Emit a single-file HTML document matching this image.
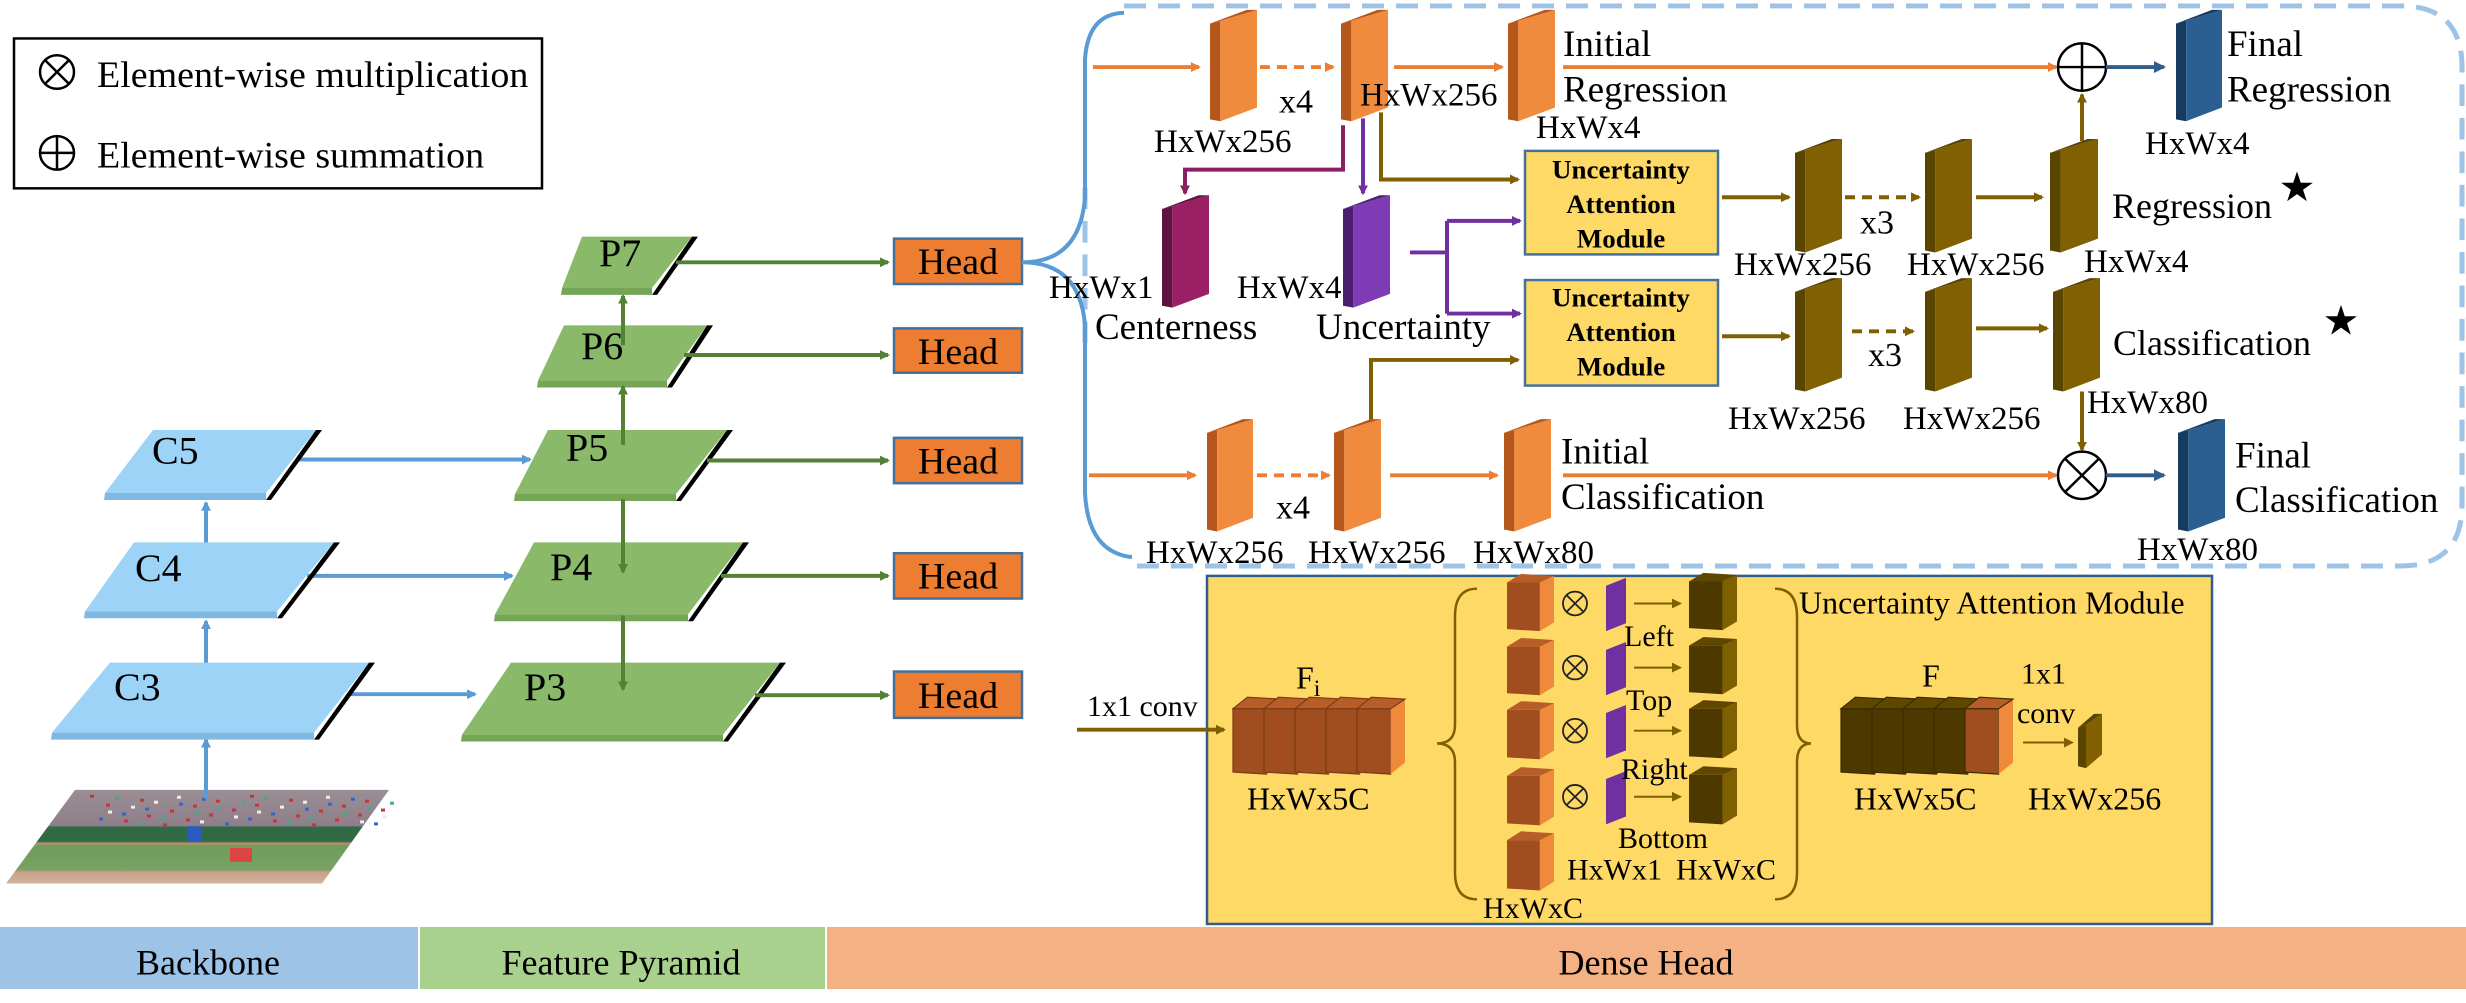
<!DOCTYPE html>
<html><head><meta charset="utf-8">
<style>
html,body{margin:0;padding:0;background:#fff;}
svg{display:block;}
text{font-family:"Liberation Serif","DejaVu Serif","Noto Serif CJK SC","Times New Roman",serif;fill:#000;}
.b{font-weight:bold;}
</style></head><body>
<svg id="s" width="2466" height="1003" viewBox="0 0 2466 1003" xmlns="http://www.w3.org/2000/svg">
<defs>
<marker id="mo" markerWidth="10" markerHeight="10" refX="8" refY="5" orient="auto" markerUnits="userSpaceOnUse"><path d="M0,0 L10,5 L0,10 z" fill="#ed7d31"/></marker>
<marker id="mg" markerWidth="10" markerHeight="10" refX="8" refY="5" orient="auto" markerUnits="userSpaceOnUse"><path d="M0,0 L10,5 L0,10 z" fill="#548235"/></marker>
<marker id="mb" markerWidth="10" markerHeight="10" refX="8" refY="5" orient="auto" markerUnits="userSpaceOnUse"><path d="M0,0 L10,5 L0,10 z" fill="#5b9bd5"/></marker>
<marker id="mn" markerWidth="10" markerHeight="10" refX="8" refY="5" orient="auto" markerUnits="userSpaceOnUse"><path d="M0,0 L10,5 L0,10 z" fill="#7f6000"/></marker>
<marker id="mp" markerWidth="10" markerHeight="10" refX="8" refY="5" orient="auto" markerUnits="userSpaceOnUse"><path d="M0,0 L10,5 L0,10 z" fill="#7030a0"/></marker>
<marker id="mm" markerWidth="10" markerHeight="10" refX="8" refY="5" orient="auto" markerUnits="userSpaceOnUse"><path d="M0,0 L10,5 L0,10 z" fill="#8c1f63"/></marker>
<marker id="md" markerWidth="12" markerHeight="12" refX="10" refY="6" orient="auto" markerUnits="userSpaceOnUse"><path d="M0,0 L12,6 L0,12 z" fill="#2e5e8e"/></marker>
<linearGradient id="img" x1="0" y1="0" x2="0" y2="1">
<stop offset="0" stop-color="#9a8e95"/><stop offset="0.38" stop-color="#8e7f8a"/>
<stop offset="0.4" stop-color="#2f6a45"/><stop offset="0.55" stop-color="#2f6a45"/>
<stop offset="0.57" stop-color="#c98a6a"/><stop offset="0.6" stop-color="#6f9d5b"/>
<stop offset="0.85" stop-color="#7aa163"/><stop offset="0.88" stop-color="#c9a28a"/>
<stop offset="1" stop-color="#d2b29c"/></linearGradient>
</defs>
<g transform="scale(1,0.9861)">
<g id="shapes"></g>
<g id="texts" font-size="33" style="font-family:'Liberation Serif','DejaVu Serif','Noto Serif CJK SC',serif">
<text x="97" y="88" font-size="38">Element-wise multiplication</text>
<text x="97" y="170" font-size="38">Element-wise summation</text>
<text x="208" y="988" font-size="36" text-anchor="middle">Backbone</text>
<text x="621" y="988" font-size="36" text-anchor="middle">Feature Pyramid</text>
<text x="1646" y="988" font-size="36" text-anchor="middle">Dense Head</text>
<text x="152" y="470" font-size="40">C5</text>
<text x="135" y="589" font-size="40">C4</text>
<text x="114" y="710" font-size="40">C3</text>
<text x="599" y="270" font-size="40">P7</text>
<text x="581" y="364" font-size="40">P6</text>
<text x="566" y="467" font-size="40">P5</text>
<text x="550" y="588" font-size="40">P4</text>
<text x="524" y="710" font-size="40">P3</text>
<text x="958" y="278" font-size="38" text-anchor="middle">Head</text>
<text x="958" y="369" font-size="38" text-anchor="middle">Head</text>
<text x="958" y="480" font-size="38" text-anchor="middle">Head</text>
<text x="958" y="597" font-size="38" text-anchor="middle">Head</text>
<text x="958" y="718" font-size="38" text-anchor="middle">Head</text>
<text x="1279" y="114" font-size="34">x4</text>
<text x="1154" y="154">HxWx256</text>
<text x="1360" y="107">HxWx256</text>
<text x="1563" y="57" font-size="37">Initial</text>
<text x="1563" y="103" font-size="37">Regression</text>
<text x="1536" y="140">HxWx4</text>
<text x="2227" y="57" font-size="37">Final</text>
<text x="2227" y="103" font-size="37">Regression</text>
<text x="2145" y="156">HxWx4</text>
<text x="1049" y="302">HxWx1</text>
<text x="1095" y="344" font-size="37">Centerness</text>
<text x="1237" y="302">HxWx4</text>
<text x="1316" y="344" font-size="37">Uncertainty</text>
<text class="b" x="1621" y="181" font-size="27" text-anchor="middle">Uncertainty</text>
<text class="b" x="1621" y="216" font-size="27" text-anchor="middle">Attention</text>
<text class="b" x="1621" y="251" font-size="27" text-anchor="middle">Module</text>
<text class="b" x="1621" y="311" font-size="27" text-anchor="middle">Uncertainty</text>
<text class="b" x="1621" y="346" font-size="27" text-anchor="middle">Attention</text>
<text class="b" x="1621" y="381" font-size="27" text-anchor="middle">Module</text>
<text x="1860" y="237" font-size="34">x3</text>
<text x="1734" y="279">HxWx256</text>
<text x="1907" y="279">HxWx256</text>
<text x="2084" y="276">HxWx4</text>
<text x="2112" y="221" font-size="36">Regression</text>
<text x="2280" y="202" font-size="34">★</text>
<text x="1868" y="371" font-size="34">x3</text>
<text x="1728" y="435">HxWx256</text>
<text x="1903" y="435">HxWx256</text>
<text x="2087" y="419">HxWx80</text>
<text x="2113" y="360" font-size="36">Classification</text>
<text x="2324" y="337" font-size="34">★</text>
<text x="1276" y="526" font-size="34">x4</text>
<text x="1561" y="470" font-size="37">Initial</text>
<text x="1561" y="516" font-size="37">Classification</text>
<text x="2235" y="474" font-size="37">Final</text>
<text x="2235" y="519" font-size="37">Classification</text>
<text x="2137" y="568">HxWx80</text>
<text x="1146" y="571">HxWx256</text>
<text x="1308" y="571">HxWx256</text>
<text x="1473" y="571">HxWx80</text>
<text x="1087" y="726" font-size="30">1x1 conv</text>
<text x="1296" y="698" font-size="32">F<tspan font-size="24" dy="8">i</tspan></text>
<text x="1247" y="821" font-size="32">HxWx5C</text>
<text x="1624" y="655" font-size="30">Left</text>
<text x="1626" y="720" font-size="30">Top</text>
<text x="1621" y="790" font-size="30">Right</text>
<text x="1618" y="860" font-size="30">Bottom</text>
<text x="1567" y="892" font-size="30">HxWx1</text>
<text x="1676" y="892" font-size="30">HxWxC</text>
<text x="1483" y="931" font-size="30">HxWxC</text>
<text x="1799" y="622" font-size="32">Uncertainty Attention Module</text>
<text x="1922" y="696" font-size="32">F</text>
<text x="2021" y="693" font-size="30">1x1</text>
<text x="2017" y="733" font-size="30">conv</text>
<text x="1854" y="821" font-size="32">HxWx5C</text>
<text x="2028" y="821" font-size="32">HxWx256</text>
</g>
</g>
</svg>
<script>
var S='';
function P(pts,f,extra){S+='<polygon points="'+pts.map(function(p){return p.join(',')}).join(' ')+'" fill="'+f+'" '+(extra||'')+'/>';}
function R(x,y,w,h,f,st,sw){S+='<rect x="'+x+'" y="'+y+'" width="'+w+'" height="'+h+'" fill="'+f+'"'+(st?' stroke="'+st+'" stroke-width="'+(sw||2)+'"':'')+'/>';}
function L(pts,c,m,w,dash){S+='<polyline points="'+pts.map(function(p){return p.join(',')}).join(' ')+'" fill="none" stroke="'+c+'" stroke-width="'+(w||4)+'"'+(m?' marker-end="url(#'+m+')"':'')+(dash?' stroke-dasharray="'+dash+'"':'')+'/>';}
function C(cx,cy,r,type,w){S+='<circle cx="'+cx+'" cy="'+cy+'" r="'+r+'" fill="#fff" stroke="#000" stroke-width="'+(w||2.5)+'"/>';
 if(type=='x'){var d=r*0.707;S+='<path d="M'+(cx-d)+','+(cy-d)+'L'+(cx+d)+','+(cy+d)+'M'+(cx+d)+','+(cy-d)+'L'+(cx-d)+','+(cy+d)+'" stroke="#000" stroke-width="'+(w||2.5)+'"/>';}
 else S+='<path d="M'+(cx-r)+','+cy+'L'+(cx+r)+','+cy+'M'+cx+','+(cy-r)+'L'+cx+','+(cy+r)+'" stroke="#000" stroke-width="'+(w||2.5)+'"/>';}
function X(cx,cy,r){S+='<circle cx="'+cx+'" cy="'+cy+'" r="'+r+'" fill="none" stroke="#222" stroke-width="1.8"/>';var d=r*0.707;S+='<path d="M'+(cx-d)+','+(cy-d)+'L'+(cx+d)+','+(cy+d)+'M'+(cx+d)+','+(cy-d)+'L'+(cx-d)+','+(cy+d)+'" stroke="#222" stroke-width="1.8"/>';}
function layer(tl,tr,bl,br,yt,yb,top,front){
 P([[tl,yt],[tr,yt],[br,yb],[bl,yb]],top);
 P([[bl,yb],[br,yb],[br,yb+7],[bl-1,yb+7]],front);
 P([[tr,yt],[tr+6,yt],[br+5,yb+7],[br,yb+7]],'#000');
}
function slab(x,y,w,h,dark,light){var t=Math.max(8,w*0.22),s=14;
 P([[x,y+s],[x+t,y+s-3],[x+t,y+h],[x,y+h-2]],dark);
 P([[x+t,y+s-3],[x+w,y],[x+w,y+h-s],[x+t,y+h]],light);
 P([[x,y+s],[x+w-t,y],[x+w,y],[x+t,y+s-3]],dark);
}
function cube(x,y,w,h,front,side,top,ln){var d=w*0.3,s=h*0.15;var e=ln?'stroke="'+ln+'" stroke-width="1.2"':'';
 P([[x,y+s],[x+w-d,y+s],[x+w-d,y+h],[x,y+h-2]],front,e);
 P([[x+w-d,y+s],[x+w,y+2],[x+w,y+h-s],[x+w-d,y+h]],side);
 P([[x,y+s],[x+d,y],[x+w,y+2],[x+w-d,y+s]],top,e);
}
R(0,940,418,63,'#9dc3e6');R(420,940,405,63,'#a9d18e');R(827,940,1639,63,'#f4b183');
R(14,39,528,152,'#fff','#000',2.5);
C(57,73,17,'x',2.5);C(57,155,17,'+',2.5);
S+='<polygon points="75,801 389,801 322,896 6,896" fill="url(#img)"/>';
for(var i=0;i<60;i++){var xx=90+i*5+((i*37)%11),yy=806+((i*53)%30);S+='<rect x="'+xx+'" y="'+yy+'" width="4" height="3" fill="'+['#c33','#36c','#eee','#c33','#4a8'][i%5]+'"/>';}
S+='<rect x="188" y="838" width="14" height="16" fill="#2a5bbf"/><rect x="230" y="860" width="22" height="14" fill="#d44"/>';
L([[206,810],[206,750]],'#5b9bd5','mb',4);
L([[206,704],[206,630]],'#5b9bd5','mb',4);
L([[206,584],[206,510]],'#5b9bd5','mb',4);
L([[299,466],[530,466]],'#5b9bd5','mb',4);
L([[307,584],[512,584]],'#5b9bd5','mb',4);
L([[350,704],[475,704]],'#5b9bd5','mb',4);
layer(153,316,105,266,436,500,'#9dd3f7','#7fb8e0');
layer(134,334,85,277,550,620,'#9dd3f7','#7fb8e0');
layer(110,369,52,314,672,743,'#9dd3f7','#7fb8e0');
layer(582,692,562,652,240,292,'#8ab96a','#74a656');
layer(564,707,538,667,330,386,'#8ab96a','#74a656');
layer(548,727,515,676,436,501,'#8ab96a','#74a656');
layer(534,743,495,688,550,623,'#8ab96a','#74a656');
layer(511,780,462,723,672,745,'#8ab96a','#74a656');
L([[623,451],[623,392]],'#548235','mg',4);
L([[623,350],[623,300]],'#548235','mg',4);
L([[623,506],[623,580]],'#548235','mg',4);
L([[623,624],[623,699]],'#548235','mg',4);
L([[676,266],[888,266]],'#548235','mg',4);
L([[684,360],[888,360]],'#548235','mg',4);
L([[707,467],[888,467]],'#548235','mg',4);
L([[721,584],[888,584]],'#548235','mg',4);
L([[755,705],[888,705]],'#548235','mg',4);
[[242,288],[333,378],[444,490],[561,607],[681,728]].forEach(function(a){R(894,a[0],128,a[1]-a[0],'#ed7d31','#41719c',2.5);});
S+='<path d="M1124,6 L2400,6 Q2462,6 2462,68 L2462,512 Q2462,574 2400,574 L1132,574" fill="none" stroke="#9dc3e6" stroke-width="5" stroke-dasharray="22,12"/>';
S+='<path d="M1085,190 L1085,360" fill="none" stroke="#9dc3e6" stroke-width="5" stroke-dasharray="22,12"/>';
S+='<path d="M1022,266 Q1080,266 1085,200 L1085,60 Q1088,14 1124,13 M1022,266 Q1080,266 1085,330 L1085,500 Q1088,560 1132,565" fill="none" stroke="#5b9bd5" stroke-width="4"/>';
var OD='#b5561a',OL='#f08a3c';
L([[1093,68],[1199,68]],'#ed7d31','mo',4);
slab(1210,10,47,113,OD,OL);
L([[1260,68],[1333,68]],'#ed7d31','mo',4,'10,7');
slab(1341,10,47,113,OD,OL);
L([[1394,68],[1502,68]],'#ed7d31','mo',4);
slab(1508,10,47,113,OD,OL);
L([[1563,68],[2056,68]],'#ed7d31','mo',4);
C(2082,68,24,'+',2.5);
L([[2106,68],[2164,68]],'#2e5e8e','md',4);
slab(2176,10,46,113,'#173b5e','#2b5f92');
L([[1343,127],[1343,172],[1185,172],[1185,196]],'#8c1f63','mm',4);
L([[1363,120],[1363,196]],'#7030a0','mp',4);
L([[1381,114],[1381,182],[1518,182]],'#7f6000','mn',4);
slab(1162,198,47,114,'#5e1240','#9a1f64');
slab(1343,198,47,114,'#4b1e70','#7f3bb5');
L([[1410,256],[1447,256]],'#7030a0',null,4);
L([[1447,224],[1447,318]],'#7030a0',null,4);
L([[1447,224],[1520,224]],'#7030a0','mp',4);
L([[1447,318],[1520,318]],'#7030a0','mp',4);
L([[1371,428],[1371,365],[1518,365]],'#7f6000','mn',4);
R(1525,153,193,105,'#ffd966','#41719c',2.5);
R(1525,284,193,107,'#ffd966','#41719c',2.5);
var BD='#5a4500',BL='#806000';
L([[1722,200],[1789,200]],'#7f6000','mn',4);
slab(1795,141,47,115,BD,BL);
L([[1845,200],[1919,200]],'#7f6000','mn',4,'10,7');
slab(1925,141,47,115,BD,BL);
L([[1976,200],[2042,200]],'#7f6000','mn',4);
slab(2050,141,48,115,BD,BL);
L([[2082,143],[2082,96]],'#7f6000','mn',4);
L([[1722,341],[1789,341]],'#7f6000','mn',4);
slab(1795,282,47,115,BD,BL);
L([[1852,336],[1913,336]],'#7f6000','mn',4,'10,7');
slab(1925,282,47,115,BD,BL);
L([[1976,333],[2047,333]],'#7f6000','mn',4);
slab(2053,282,47,115,BD,BL);
L([[2082,397],[2082,456]],'#7f6000','mn',4);
L([[1089,482],[1195,482]],'#ed7d31','mo',4);
slab(1207,425,46,114,OD,OL);
L([[1257,482],[1329,482]],'#ed7d31','mo',4,'10,7');
slab(1334,425,47,114,OD,OL);
L([[1390,482],[1497,482]],'#ed7d31','mo',4);
slab(1504,425,47,114,OD,OL);
L([[1563,482],[2056,482]],'#ed7d31','mo',4);
C(2082,482,24,'x',2.5);
L([[2106,482],[2164,482]],'#2e5e8e','md',4);
slab(2178,425,47,114,'#173b5e','#2b5f92');
R(1207,584,1005,353,'#ffd966','#2e5e8e',2.5);
L([[1077,740],[1224,740]],'#7f6000','mn',4);
for(var k=0;k<5;k++){cube(1233+k*31,707,48,78,'#a04e1f','#ef8a3d','#b85d27','#7a3a12');}
S+='<path d="M1477,597 Q1455,597 1455,625 L1455,735 Q1455,754 1437,754 Q1455,754 1455,773 L1455,885 Q1455,912 1477,912" fill="none" stroke="#7f6000" stroke-width="2.5"/>';
S+='<path d="M1775,597 Q1797,597 1797,625 L1797,735 Q1797,754 1811,754 Q1797,754 1797,773 L1797,885 Q1797,912 1775,912" fill="none" stroke="#7f6000" stroke-width="2.5"/>';
var rows=[[582,640],[647,705],[711,770],[778,837],[843,903]];
rows.forEach(function(r,i){cube(1507,r[0],47,r[1]-r[0],'#a04e1f','#ef8a3d','#b85d27');
 if(i<4){X(1575,r[0]+30,12);
  P([[1606,r[0]+12],[1626,r[0]+4],[1626,r[0]+50],[1606,r[0]+58]],'#7030a0');
  L([[1634,r[0]+30],[1680,r[0]+30]],'#7f6000','mn',2);
  cube(1689,r[0]-1,48,r[1]-r[0],'#4d3900','#7f6000','#5f4700');}
});
for(var k=0;k<5;k++){cube(1841+k*31,707,48,78,k==4?'#a04e1f':'#4d3900',k==4?'#ef8a3d':'#5c4500',k==4?'#b85d27':'#5f4700','#3a2b00');}
L([[2023,753],[2072,753]],'#7f6000','mn',2);
slab(2078,724,24,55,'#5a4500','#806000');
document.getElementById('shapes').innerHTML=S;
</script>
</body></html>
